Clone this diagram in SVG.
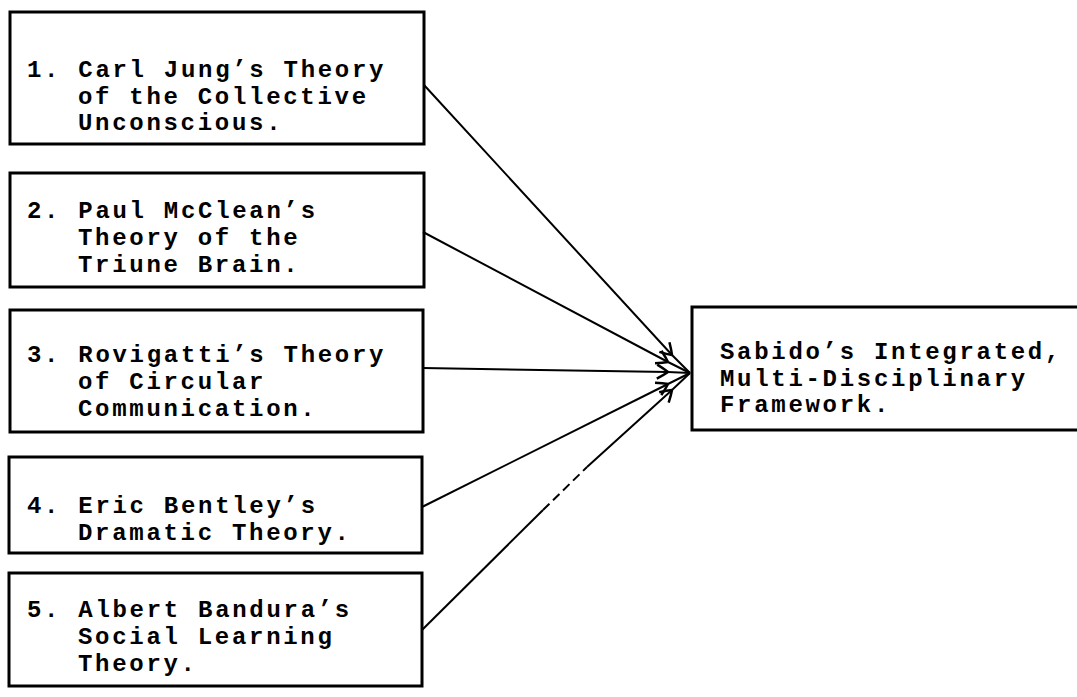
<svg xmlns="http://www.w3.org/2000/svg" width="1077" height="697" viewBox="0 0 1077 697">
<defs>
<style>
.box{fill:#fff;stroke:#000;stroke-width:3}
.t{font-family:"Liberation Mono","Courier New",monospace;font-size:24px;font-weight:bold;letter-spacing:2.7px;fill:#000}
.c{fill:none;stroke:#000;stroke-width:2}
</style>
<marker id="ah" markerWidth="24" markerHeight="24" refX="12" refY="12" orient="auto" markerUnits="userSpaceOnUse">
<path d="M1,5 Q8,9 12,12 M1,19 Q8,15 12,12" fill="none" stroke="#000" stroke-width="2.5"/>
</marker>
</defs>
<rect width="1077" height="697" fill="#fff"/>
<g id="node1">
<rect class="box" x="10" y="12" width="414" height="132"/>
<text class="t"><tspan x="27" y="77">1. Carl Jung’s Theory</tspan><tspan x="78" y="103.5">of the Collective</tspan><tspan x="78" y="130">Unconscious.</tspan></text>
</g>
<g id="node2">
<rect class="box" x="10" y="173" width="414" height="114"/>
<text class="t"><tspan x="27" y="218">2. Paul McClean’s</tspan><tspan x="78" y="245">Theory of the</tspan><tspan x="78" y="272">Triune Brain.</tspan></text>
</g>
<g id="node3">
<rect class="box" x="10" y="310" width="413" height="122"/>
<text class="t"><tspan x="27" y="362">3. Rovigatti’s Theory</tspan><tspan x="78" y="389">of Circular</tspan><tspan x="78" y="416">Communication.</tspan></text>
</g>
<g id="node4">
<rect class="box" x="9" y="457" width="413" height="96"/>
<text class="t"><tspan x="27" y="513">4. Eric Bentley’s</tspan><tspan x="78" y="540">Dramatic Theory.</tspan></text>
</g>
<g id="node5">
<rect class="box" x="9" y="573" width="413" height="113"/>
<text class="t"><tspan x="27" y="617">5. Albert Bandura’s</tspan><tspan x="78" y="644">Social Learning</tspan><tspan x="78" y="671">Theory.</tspan></text>
</g>
<g id="target">
<rect class="box" x="692" y="307" width="390" height="123"/>
<text class="t"><tspan x="720" y="359">Sabido’s Integrated,</tspan><tspan x="720" y="385.5">Multi-Disciplinary</tspan><tspan x="720" y="412">Framework.</tspan></text>
</g>
<g id="connectors">
<path class="c" d="M424,85 L672,355 L690,373" marker-mid="url(#ah)"/>
<path class="c" d="M423,232 L668,362 L690,373" marker-mid="url(#ah)"/>
<path class="c" d="M423,368 L668,372 L690,373" marker-mid="url(#ah)"/>
<path class="c" d="M422,507 L668,384 L690,373" marker-mid="url(#ah)"/>
<path class="c" d="M422,630 L543,510"/>
<path class="c" d="M543,510 L587,467" stroke-dasharray="9,5"/>
<path class="c" d="M587,467 L672,390 L690,373" marker-mid="url(#ah)"/>
</g>
</svg>
